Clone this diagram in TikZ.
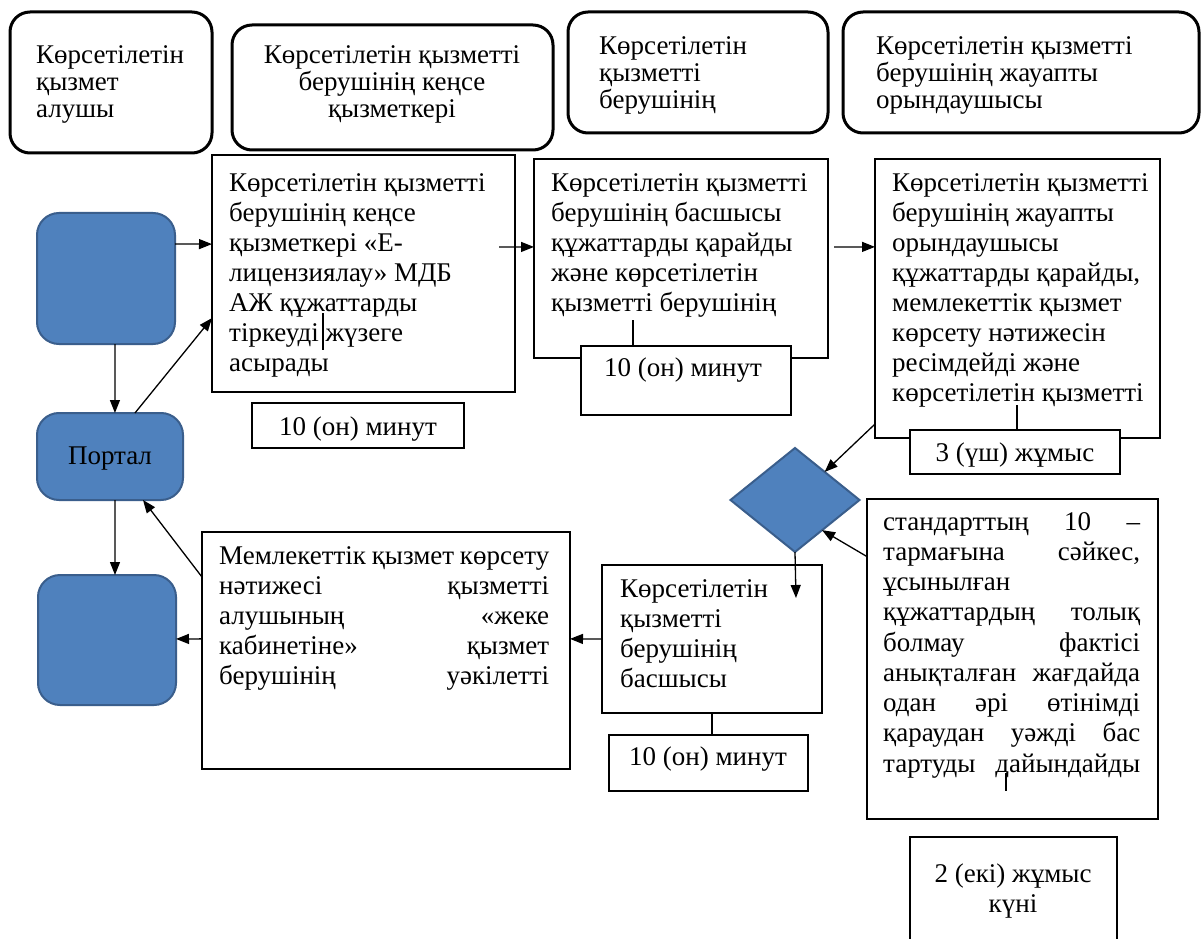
\documentclass[tikz,border=0pt]{standalone}
\usepackage{fontspec}
\setmainfont{Liberation Serif}
\usetikzlibrary{arrows.meta,calc,shapes.geometric}
\definecolor{boxblue}{HTML}{4F81BD}
\definecolor{boxblueedge}{HTML}{3A5E8C}
\newcommand{\bodyfont}{\fontsize{27}{30}\selectfont}
\newcommand{\hdrfont}{\fontsize{27}{27.3}\selectfont}
\newcommand{\firstline}{\rule{0pt}{22pt}}
\tikzset{
  hdr/.style={draw, line width=3pt, rounded corners=20pt, anchor=north west, inner sep=0pt, outer sep=0pt},
  pbox/.style={draw, line width=1.4pt, fill=white, anchor=north west, inner sep=0pt, outer sep=0pt},
  bluebox/.style={draw=boxblueedge, line width=2pt, fill=boxblue, rounded corners=22pt, anchor=north west, inner sep=0pt, outer sep=0pt},
  txt/.style={anchor=north west, inner sep=0pt, align=left, font=\bodyfont},
  htxt/.style={anchor=north west, inner sep=0pt, align=left, font=\hdrfont},
  ltxt/.style={anchor=base, inner sep=0pt, align=center, font=\bodyfont},
  arr/.style={line width=1.3pt, -{Triangle[length=13pt,width=10pt]}},
  tick/.style={line width=1.3pt},
}
\begin{document}
\begin{tikzpicture}[x=1pt,y=-1pt]
\useasboundingbox (0,0) rectangle (1203,939);
\clip (0,0) rectangle (1203,939);
\fill[white] (0,0) rectangle (1203,939);

% header boxes
\node[hdr, minimum width=202pt, minimum height=141pt] (H1) at (10,12) {};
\node[hdr, minimum width=321pt, minimum height=125pt] (H2) at (232,25) {};
\node[hdr, minimum width=260pt, minimum height=121pt] (H3) at (568,12) {};
\node[hdr, minimum width=356pt, minimum height=121pt] (H4) at (843,12) {};
\node[htxt] (H1t) at (36,41) {\firstline Көрсетілетін\\қызмет\\алушы};
\node[htxt, anchor=north, align=center] (H2t) at (392,41) {\firstline Көрсетілетін қызметті\\берушінің кеңсе\\қызметкері};
\node[htxt] (H3t) at (599,32) {\firstline Көрсетілетін\\қызметті\\берушінің};
\node[htxt] (H4t) at (876,32) {\firstline Көрсетілетін қызметті\\берушінің жауапты\\орындаушысы};

% blue shapes
\node[bluebox, minimum width=138pt, minimum height=131pt] (B1) at (37,213) {};
\node[bluebox, minimum width=146pt, minimum height=87pt] (Portal) at (37,413) {};
\node[ltxt] (Portalt) at (110,464) {Портал};
\node[bluebox, minimum width=138pt, minimum height=130pt] (B3) at (38,575) {};
\node[diamond, draw=boxblueedge, line width=2pt, fill=boxblue, minimum width=129pt, minimum height=104pt, inner sep=0pt, outer sep=0pt] (D) at (795,500) {};

% process boxes
\node[pbox, minimum width=303pt, minimum height=237pt] (P1) at (212,155) {};
\node[txt] (P1t) at (229,169) {\firstline Көрсетілетін қызметті\\берушінің кеңсе\\қызметкері «Е-\\лицензиялау» МДБ\\АЖ құжаттарды\\тіркеуді жүзеге\\асырады};
\node[pbox, minimum width=212pt, minimum height=45pt] (T1) at (252,403) {};
\node[ltxt] (T1t) at (358,435) {10 (он) минут};

\node[pbox, minimum width=294pt, minimum height=199pt] (P2) at (534,159) {};
\node[txt] (P2t) at (551,169) {\firstline Көрсетілетін қызметті\\берушінің басшысы\\құжаттарды қарайды\\және көрсетілетін\\қызметті берушінің};
\node[pbox, minimum width=210pt, minimum height=69pt] (T2) at (581,346) {};
\node[ltxt] (T2t) at (683,376) {10 (он) минут};

\node[pbox, minimum width=285pt, minimum height=279pt] (P3) at (875,159) {};
\node[txt] (P3t) at (892,169) {\firstline Көрсетілетін қызметті\\берушінің жауапты\\орындаушысы\\құжаттарды қарайды,\\мемлекеттік қызмет\\көрсету нәтижесін\\ресімдейді және\\көрсетілетін қызметті};
\node[pbox, minimum width=210pt, minimum height=44pt] (T3) at (910,430) {};
\node[ltxt] (T3t) at (1015,461) {3 (үш) жұмыс};

\node[pbox, minimum width=291pt, minimum height=320pt] (P6) at (867,499) {};
\node[txt, font=\fontsize{27}{30.25}\selectfont] (P6t) at (883,508) {\firstline\makebox[257pt][s]{стандарттың 10 –}\\\makebox[257pt][s]{тармағына сәйкес,}\\\makebox[257pt][l]{ұсынылған}\\\makebox[257pt][s]{құжаттардың толық}\\\makebox[257pt][s]{болмау фактісі}\\\makebox[257pt][s]{анықталған жағдайда}\\\makebox[257pt][s]{одан әрі өтінімді}\\\makebox[257pt][s]{қараудан уәжді бас}\\\makebox[257pt][s]{тартуды дайындайды}};
\node[pbox, minimum width=207pt, minimum height=140pt] (T5) at (910,837) {};
\node[txt, anchor=north, align=center] (T5t) at (1013,860) {\firstline 2 (екі) жұмыс\\күні};

\node[pbox, minimum width=220pt, minimum height=148pt] (P4) at (602,565) {};
\node[txt] (P4t) at (620,575) {\firstline Көрсетілетін\\қызметті\\берушінің\\басшысы};
\node[pbox, minimum width=199pt, minimum height=56pt] (T4) at (609,735) {};
\node[ltxt] (T4t) at (708,765) {10 (он) минут};

\node[pbox, minimum width=368pt, minimum height=237pt] (P5) at (202,532) {};
\node[txt] (P5t) at (219,542) {\firstline\makebox[330pt][s]{Мемлекеттік қызмет көрсету}\\\makebox[330pt][s]{нәтижесі қызметті}\\\makebox[330pt][s]{алушының «жеке}\\\makebox[330pt][s]{кабинетіне» қызмет}\\\makebox[330pt][s]{берушінің уәкілетті}};

% connectors
\draw[arr] ($(B1.north east)!0.237!(B1.south east)$) -- ($(P1.north west)!0.376!(P1.south west)$);
\draw[arr] ($(B1.south west)!0.565!(B1.south east)$) -- ($(Portal.north west)!0.534!(Portal.north east)$);
\draw[arr] ($(Portal.north west)!0.671!(Portal.north east)$) -- ($(P1.north west)!0.688!(P1.south west)$);
\draw[arr] ($(Portal.south west)!0.534!(Portal.south east)$) -- ($(B3.north west)!0.558!(B3.north east)$);
\draw[arr] ($(P5.north west)!0.19!(P5.south west)$) -- ($(Portal.south west)!0.726!(Portal.south east)$);
\draw[arr] ($(P5.north west)!0.451!(P5.south west)$) -- ($(B3.north east)!0.492!(B3.south east)$);
\draw[arr] ($(P1.north east)!0.388!(P1.south east)+(-16,0)$) -- ($(P2.north west)!0.442!(P2.south west)$);
\draw[arr] ($(P2.north east)!0.442!(P2.south east)+(6,0)$) -- ($(P3.north west)!0.315!(P3.south west)$);
\draw[arr] ($(P3.north west)!0.95!(P3.south west)$) -- ($(D.north)!0.46!(D.east)$);
\draw[arr] ($(P6.north west)!0.18!(P6.south west)$) -- ($(D.east)!0.58!(D.south)$);
\draw[arr] (D.south) -- ($(D.south)+(1,46)$);
\draw[arr] (P4.west) -- ($(P5.north east)!0.451!(P5.south east)$);

% small ticks
\draw[tick] ($(P1.north west)+(111,158)$) -- ++(0,37);
\draw[tick] ($(T2.north west)!0.248!(T2.north east)$) -- ++(0,-26);
\draw[tick] ($(T3.north west)!0.51!(T3.north east)$) -- ++(0,-25);
\draw[tick] (P4.south) -- (P4.south |- T4.north);
\draw[tick] ($(P6.south west)+(139,-46)$) -- ++(0,18);
\end{tikzpicture}
\end{document}
